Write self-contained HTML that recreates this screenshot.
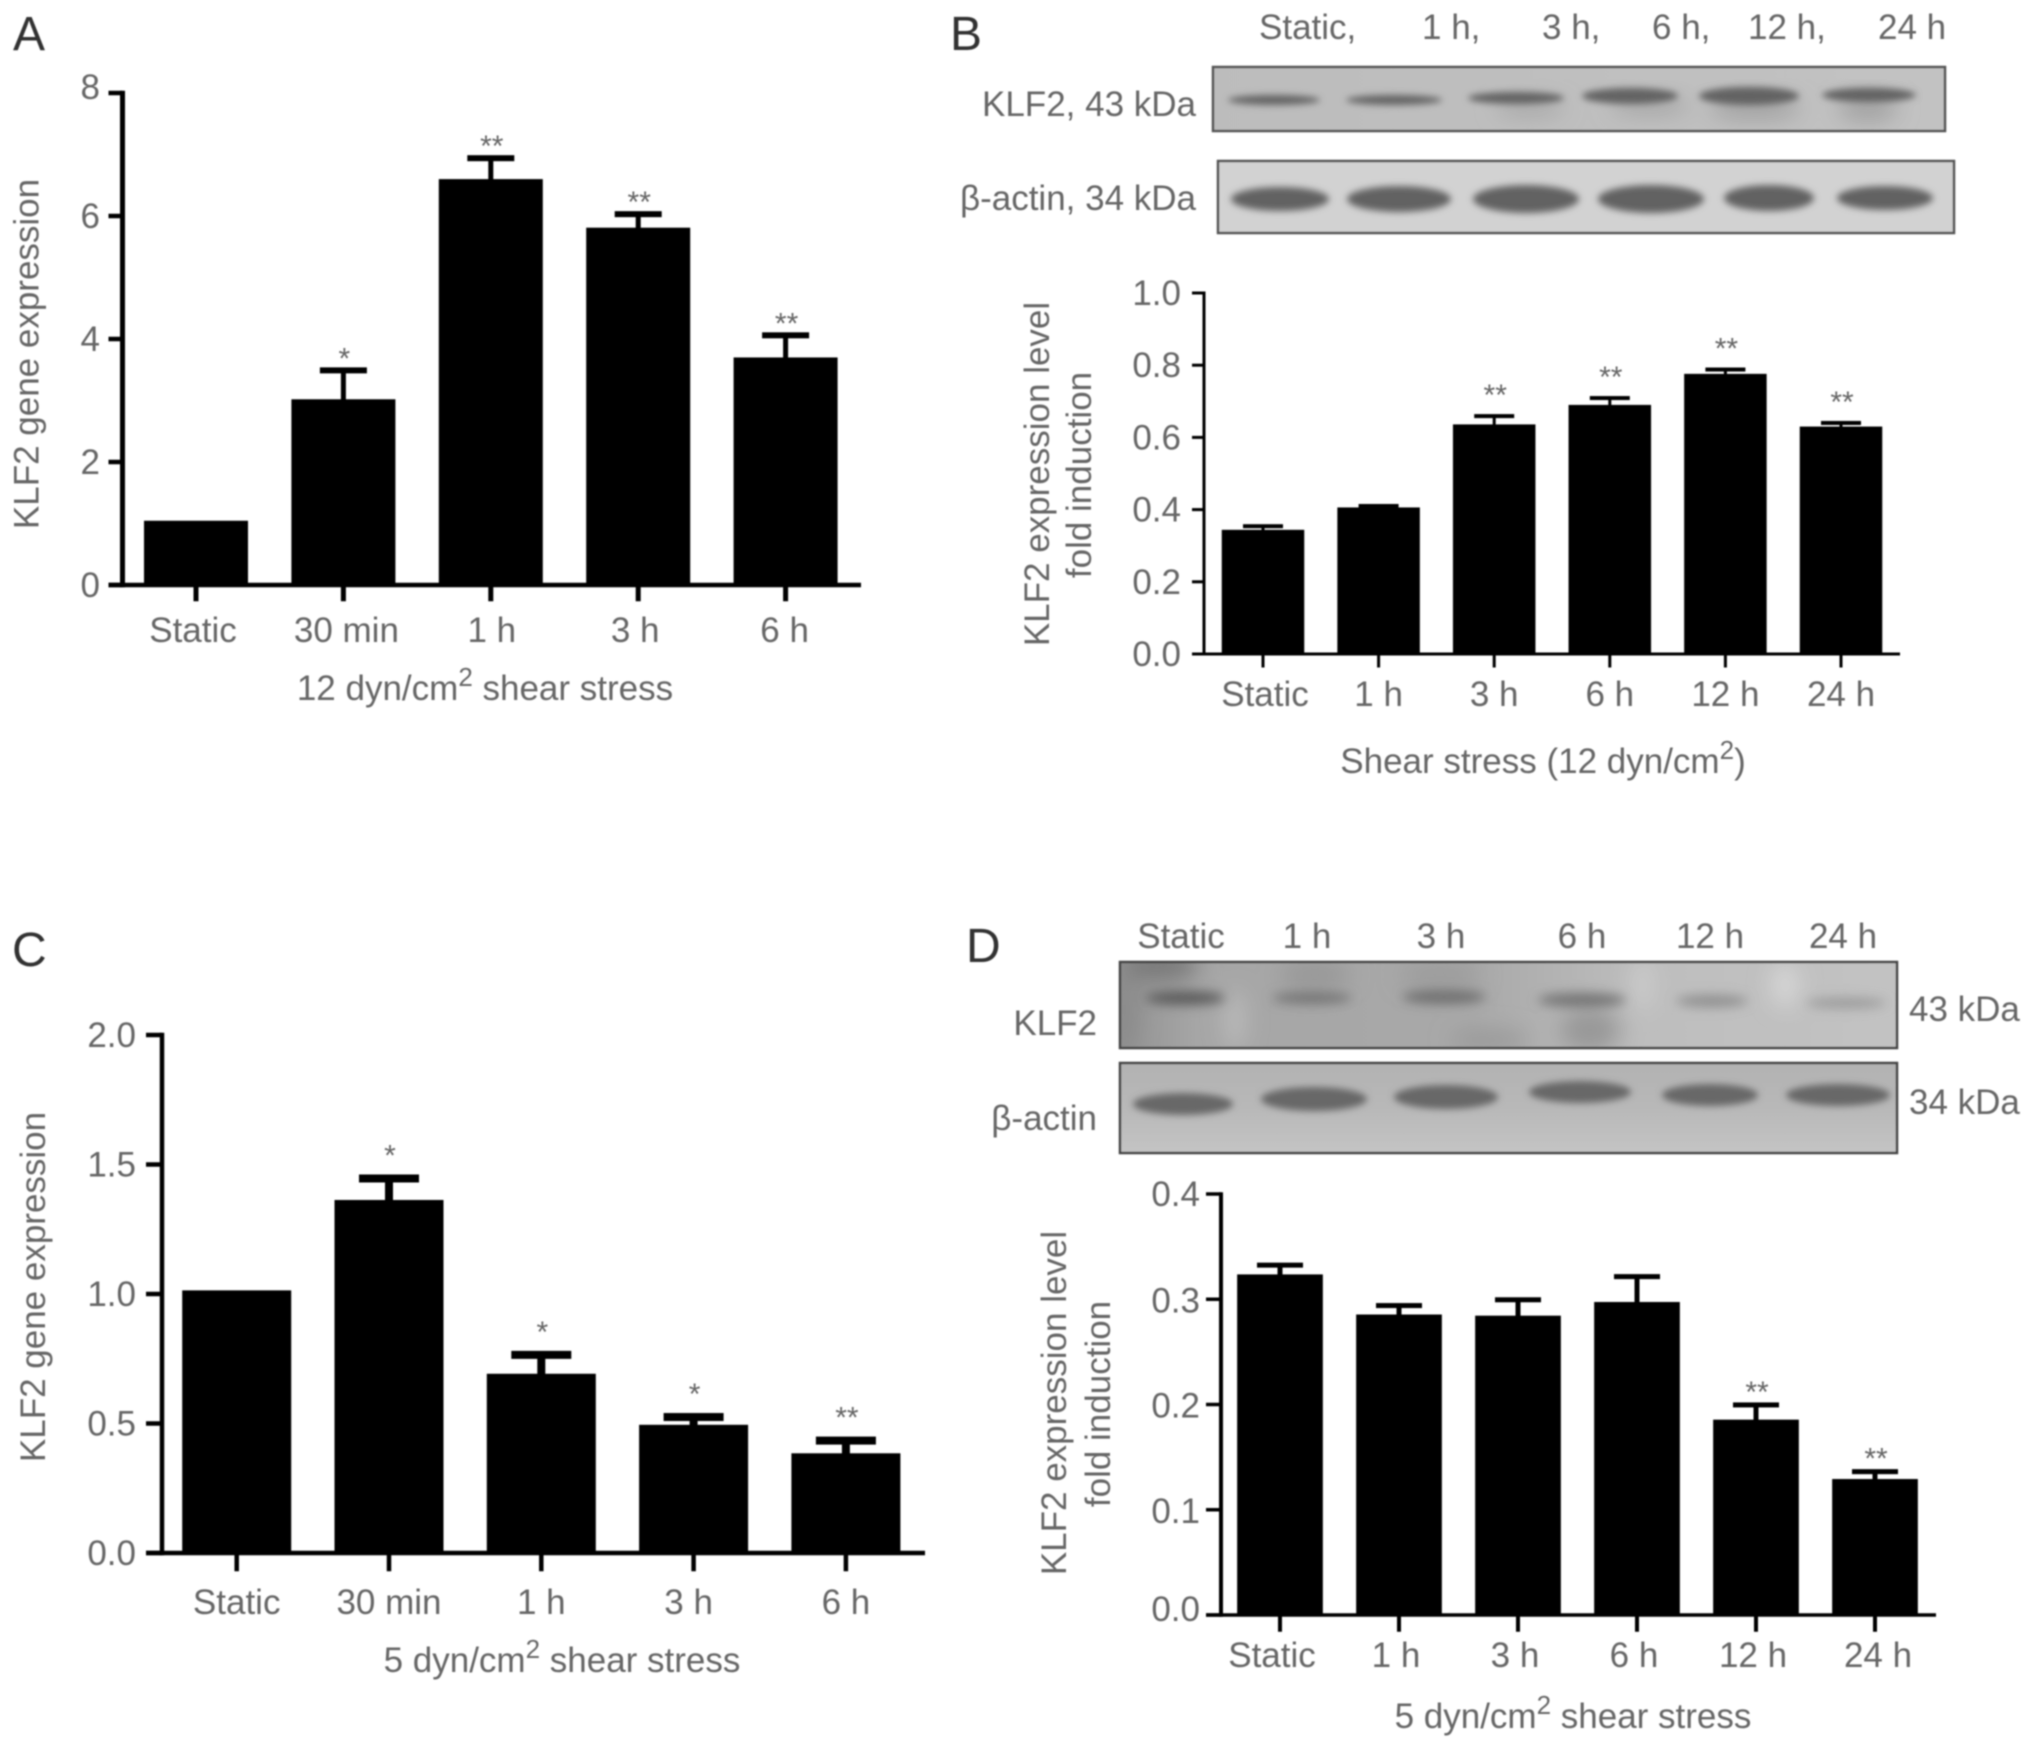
<!DOCTYPE html>
<html lang="en">
<head>
<meta charset="utf-8">
<title>KLF2 expression under shear stress</title>
<style>
html,body{margin:0;padding:0;background:#fff;width:2031px;height:1747px;overflow:hidden}
svg{display:block;position:absolute;left:0;top:0}
text{font-family:"Liberation Sans",sans-serif;fill:#666}
</style>
</head>
<body>
<svg id="figure" xmlns="http://www.w3.org/2000/svg" width="2031" height="1747" viewBox="0 0 2031 1747">
<defs>
  <filter id="soft" x="-5%" y="-5%" width="110%" height="110%"><feGaussianBlur stdDeviation="0.7"/></filter>
  <filter id="bandBlur" x="-30%" y="-100%" width="160%" height="300%"><feGaussianBlur stdDeviation="3.5"/></filter>
  <filter id="bandBlurWide" x="-30%" y="-150%" width="160%" height="400%"><feGaussianBlur stdDeviation="5.5"/></filter>
  <filter id="bgBlur" x="-50%" y="-50%" width="200%" height="200%"><feGaussianBlur stdDeviation="11"/></filter>
  <clipPath id="clipB1"><rect x="1213" y="67" width="732" height="64"/></clipPath>
  <clipPath id="clipB2"><rect x="1218" y="161" width="736" height="72"/></clipPath>
  <clipPath id="clipD1"><rect x="1120" y="962" width="777" height="86"/></clipPath>
  <clipPath id="clipD2"><rect x="1120" y="1063" width="777" height="90"/></clipPath>
  <linearGradient id="gradB1" x1="0" x2="1" y1="0" y2="0"><stop offset="0" stop-color="#bcbcbc"/><stop offset="1" stop-color="#c2c2c2"/></linearGradient>
  <linearGradient id="gradD1" x1="0" x2="1" y1="0" y2="0"><stop offset="0" stop-color="#929292"/><stop offset="0.1" stop-color="#a6a6a6"/><stop offset="0.45" stop-color="#a8a8a8"/><stop offset="0.68" stop-color="#bebebe"/><stop offset="1" stop-color="#c2c2c2"/></linearGradient>
  <linearGradient id="gradD2" x1="0" x2="0" y1="0" y2="1"><stop offset="0" stop-color="#b2b2b2"/><stop offset="0.5" stop-color="#b8b8b8"/><stop offset="1" stop-color="#c4c4c4"/></linearGradient>
</defs>
<g id="root" filter="url(#soft)">
  <text x="13" y="50" font-size="48" style="fill:#333">A</text>
  <text x="950" y="50" font-size="48" style="fill:#333">B</text>
  <text x="12" y="966" font-size="48" style="fill:#333">C</text>
  <text x="966" y="962" font-size="48" style="fill:#333">D</text>

  <g font-size="35">
    <text x="1259" y="39">Static,</text>
    <text x="1422" y="39">1 h,</text>
    <text x="1542" y="39">3 h,</text>
    <text x="1652" y="39">6 h,</text>
    <text x="1748" y="39">12 h,</text>
    <text x="1878" y="39">24 h</text>
    <text x="1196" y="116" text-anchor="end">KLF2, 43 kDa</text>
    <text x="1196" y="210" text-anchor="end">β-actin, 34 kDa</text>
  </g>

  <g>
    <rect x="1213" y="67" width="732" height="64" fill="url(#gradB1)"/>
    <g clip-path="url(#clipB1)">
      <g filter="url(#bgBlur)" fill="#a2a2a2">
        <ellipse cx="1530" cy="108" rx="35" ry="7"/>
        <ellipse cx="1650" cy="106" rx="40" ry="8"/>
        <ellipse cx="1755" cy="108" rx="46" ry="12"/>
        <ellipse cx="1868" cy="108" rx="30" ry="14"/>
      </g>
      <g filter="url(#bandBlur)" fill="#636363">
        <ellipse cx="1274" cy="100" rx="46" ry="5"/>
        <ellipse cx="1394" cy="100" rx="48" ry="5"/>
        <ellipse cx="1516" cy="98" rx="48" ry="6"/>
        <ellipse cx="1630" cy="96" rx="48" ry="8"/>
        <ellipse cx="1749" cy="96" rx="50" ry="9"/>
        <ellipse cx="1869" cy="95" rx="47" ry="7"/>
      </g>
    </g>
    <rect x="1213" y="67" width="732" height="64" fill="none" stroke="#555" stroke-width="2.5"/>
  </g>
  <g>
    <rect x="1218" y="161" width="736" height="72" fill="#d2d2d2"/>
    <g clip-path="url(#clipB2)">
      <g filter="url(#bandBlur)" fill="#626262">
        <ellipse cx="1280" cy="199" rx="49" ry="12"/>
        <ellipse cx="1399" cy="199" rx="52" ry="13"/>
        <ellipse cx="1526" cy="199" rx="53" ry="14"/>
        <ellipse cx="1651" cy="199" rx="53" ry="14"/>
        <ellipse cx="1769" cy="198" rx="45" ry="13"/>
        <ellipse cx="1885" cy="198" rx="48" ry="12"/>
      </g>
    </g>
    <rect x="1218" y="161" width="736" height="72" fill="none" stroke="#555" stroke-width="2.5"/>
  </g>

  <g font-size="35">
    <text x="1181" y="948" text-anchor="middle">Static</text>
    <text x="1307" y="948" text-anchor="middle">1 h</text>
    <text x="1441" y="948" text-anchor="middle">3 h</text>
    <text x="1582" y="948" text-anchor="middle">6 h</text>
    <text x="1710" y="948" text-anchor="middle">12 h</text>
    <text x="1843" y="948" text-anchor="middle">24 h</text>
    <text x="1097" y="1035" text-anchor="end">KLF2</text>
    <text x="1097" y="1130" text-anchor="end">β-actin</text>
    <text x="1909" y="1021">43 kDa</text>
    <text x="1909" y="1114">34 kDa</text>
  </g>

  <g>
    <rect x="1120" y="962" width="777" height="86" fill="url(#gradD1)"/>
    <g clip-path="url(#clipD1)">
      <g filter="url(#bgBlur)">
        <ellipse cx="1160" cy="966" rx="40" ry="14" fill="#777"/>
        <ellipse cx="1125" cy="1010" rx="12" ry="45" fill="#8a8a8a"/>
        <ellipse cx="1315" cy="975" rx="35" ry="14" fill="#979797"/>
        <ellipse cx="1440" cy="975" rx="40" ry="14" fill="#9c9c9c"/>
        <ellipse cx="1490" cy="1040" rx="40" ry="10" fill="#999"/>
        <ellipse cx="1590" cy="1030" rx="30" ry="22" fill="#989898"/>
        <ellipse cx="1785" cy="985" rx="14" ry="22" fill="#d6d6d6"/>
        <ellipse cx="1642" cy="985" rx="10" ry="25" fill="#cccccc"/>
        <ellipse cx="1235" cy="1020" rx="10" ry="30" fill="#bbb"/>
      </g>
      <g filter="url(#bandBlurWide)">
        <ellipse cx="1185" cy="998" rx="40" ry="7" fill="#5c5c5c"/>
        <ellipse cx="1312" cy="998" rx="40" ry="6" fill="#747474"/>
        <ellipse cx="1444" cy="997" rx="42" ry="7" fill="#707070"/>
        <ellipse cx="1582" cy="1000" rx="44" ry="7" fill="#757575"/>
        <ellipse cx="1712" cy="1001" rx="36" ry="6" fill="#8e8e8e"/>
        <ellipse cx="1846" cy="1003" rx="40" ry="5" fill="#989898"/>
      </g>
    </g>
    <rect x="1120" y="962" width="777" height="86" fill="none" stroke="#444" stroke-width="2.5"/>
  </g>
  <g>
    <rect x="1120" y="1063" width="777" height="90" fill="url(#gradD2)"/>
    <g clip-path="url(#clipD2)">
      <g filter="url(#bandBlur)" fill="#686868">
        <ellipse cx="1183" cy="1104" rx="50" ry="11"/>
        <ellipse cx="1314" cy="1099" rx="53" ry="12"/>
        <ellipse cx="1446" cy="1097" rx="52" ry="12"/>
        <ellipse cx="1580" cy="1092" rx="51" ry="11"/>
        <ellipse cx="1710" cy="1095" rx="48" ry="11"/>
        <ellipse cx="1838" cy="1095" rx="52" ry="11"/>
      </g>
    </g>
    <rect x="1120" y="1063" width="777" height="90" fill="none" stroke="#444" stroke-width="2.5"/>
  </g>
</g>
</svg>
<script>
const panelACategories = ['Static', '30 min', '1 h', '3 h', '6 h'];
const panelAValues = [1.045, 3.02, 6.6, 5.81, 3.7];
const panelAErrorTops = [null, 3.49, 6.94, 6.03, 4.06];
const panelAStars = ['', '*', '**', '**', '**'];
const panelAYTicks = [0, 2, 4, 6, 8];
const panelAYTickLabels = ['0', '2', '4', '6', '8'];

const panelBCategories = ['Static', '1 h', '3 h', '6 h', '12 h', '24 h'];
const panelBValues = [0.344, 0.406, 0.636, 0.69, 0.776, 0.63];
const panelBErrorTops = [0.354, 0.41, 0.659, 0.709, 0.788, 0.64];
const panelBStars = ['', '', '**', '**', '**', '**'];
const panelBYTicks = [0, 0.2, 0.4, 0.6, 0.8, 1.0];
const panelBYTickLabels = ['0.0', '0.2', '0.4', '0.6', '0.8', '1.0'];

const panelCCategories = ['Static', '30 min', '1 h', '3 h', '6 h'];
const panelCValues = [1.014, 1.363, 0.692, 0.495, 0.385];
const panelCErrorTops = [null, 1.446, 0.765, 0.525, 0.434];
const panelCStars = ['', '*', '*', '*', '**'];
const panelCYTicks = [0, 0.5, 1.0, 1.5, 2.0];
const panelCYTickLabels = ['0.0', '0.5', '1.0', '1.5', '2.0'];

const panelDCategories = ['Static', '1 h', '3 h', '6 h', '12 h', '24 h'];
const panelDValues = [0.3236, 0.2855, 0.2844, 0.2974, 0.1856, 0.1292];
const panelDErrorTops = [0.3324, 0.294, 0.2995, 0.3215, 0.1996, 0.1362];
const panelDStars = ['', '', '', '', '**', '**'];
const panelDYTicks = [0, 0.1, 0.2, 0.3, 0.4];
const panelDYTickLabels = ['0.0', '0.1', '0.2', '0.3', '0.4'];

const SVG_NS = 'http://www.w3.org/2000/svg';
const root = document.getElementById('root');

function shape(parent, tag, attrs) {
  const el = document.createElementNS(SVG_NS, tag);
  for (const k in attrs) el.setAttribute(k, attrs[k]);
  parent.appendChild(el);
  return el;
}

function addTitle(parent, x, y, before, after) {
  const t = shape(parent, 'text', {x: x, y: y, 'text-anchor': 'middle', 'font-size': 35});
  t.appendChild(document.createTextNode(before));
  const sup = shape(t, 'tspan', {dy: -14, 'font-size': 26});
  sup.textContent = '2';
  const rest = shape(t, 'tspan', {dy: 14});
  rest.textContent = after;
  return t;
}

function drawPanel(id, data, g) {
  const panel = shape(root, 'g', {});
  
  

  const yScale = v => g.base - (v / g.max) * (g.base - g.top);
  const xScale = i => g.first + g.step * i;

  data.categories.forEach((cat, i) => {
    const cx = xScale(i);
    const bar = shape(panel, 'rect', {x: cx - g.barW / 2, y: yScale(data.values[i]), width: g.barW, height: g.base - yScale(data.values[i]), fill: '#000'});
    
    

    if (data.errors[i] !== null) {
      const top = yScale(data.errors[i]);
      const stem = shape(panel, 'rect', {x: cx - g.stemW / 2, y: top, width: g.stemW, height: yScale(data.values[i]) - top + 1, fill: '#000'});
      
      
      const cap = shape(panel, 'rect', {x: cx - g.capW / 2, y: top - g.capH / 2, width: g.capW, height: g.capH, fill: '#000'});
      
      
    }

    if (data.stars[i]) {
      const refVal = data.errors[i] !== null ? data.errors[i] : data.values[i];
      const star = shape(panel, 'text', {x: cx + 1, y: yScale(refVal) - g.starGap + 17, 'text-anchor': 'middle', 'font-size': 30});
      star.textContent = data.stars[i];
      
      
    }

    const tick = shape(panel, 'rect', {x: cx - g.axisW / 2, y: g.base, width: g.axisW, height: g.tickLen + g.baseW / 2, fill: '#000'});
    
    

    const label = shape(panel, 'text', {x: cx + g.xNudge[i], y: g.xLabelY, 'text-anchor': 'middle', 'font-size': 35});
    label.textContent = cat;
    
    
  });

  const yAxis = shape(panel, 'rect', {x: g.axisX - g.axisW / 2, y: g.top - g.baseW / 2, width: g.axisW, height: g.base - g.top + g.baseW, fill: '#000'});
  
  
  const xAxis = shape(panel, 'rect', {x: g.axisX - g.tickLen, y: g.base - g.baseW / 2, width: g.axisEnd - g.axisX + g.tickLen, height: g.baseW, fill: '#000'});
  
  

  data.yTicks.forEach((v, i) => {
    const tick = shape(panel, 'rect', {x: g.axisX - g.tickLen, y: yScale(v) - g.baseW / 2, width: g.tickLen, height: g.baseW, fill: '#000'});
    
    
    const label = shape(panel, 'text', {x: g.yLabelX, y: yScale(v) + 12 + g.yNudge[i], 'text-anchor': 'end', 'font-size': 35});
    label.textContent = data.yLabels[i];
    
    
  });

  g.yTitle.forEach(line => {
    const t = shape(panel, 'text', {x: 0, y: 0, 'text-anchor': 'middle', 'font-size': line.size, transform: 'translate(' + line.x + ' ' + line.y + ') rotate(-90)'});
    t.textContent = line.text;
    
    
  });

  const xt = addTitle(panel, g.xTitle.x, g.xTitle.y, g.xTitle.before, g.xTitle.after);
  
  
}

drawPanel('a',
  {categories: panelACategories, values: panelAValues, errors: panelAErrorTops, stars: panelAStars, yTicks: panelAYTicks, yLabels: panelAYTickLabels},
  {axisX: 122.5, top: 93, base: 585, axisEnd: 861, first: 196, step: 147.4, barW: 104, max: 8, capW: 47, capH: 6, stemW: 5, axisW: 5, baseW: 4.5, tickLen: 14, starGap: 19, yLabelX: 100, xLabelY: 642,
   xNudge: [-3, 3, 1, -3, -1], yNudge: [0, 0, 0, 0, -6],
   yTitle: [{text: 'KLF2 gene expression', x: 38.5, y: 354, size: 35}],
   xTitle: {x: 485, y: 700, before: '12 dyn/cm', after: ' shear stress'}});

drawPanel('b',
  {categories: panelBCategories, values: panelBValues, errors: panelBErrorTops, stars: panelBStars, yTicks: panelBYTicks, yLabels: panelBYTickLabels},
  {axisX: 1204, top: 293, base: 654, axisEnd: 1900, first: 1263, step: 115.6, barW: 82.5, max: 1, capW: 40, capH: 4, stemW: 3, axisW: 3, baseW: 3, tickLen: 12, starGap: 28, yLabelX: 1181, xLabelY: 706,
   xNudge: [2, 0, 0, 0, 0, 0], yNudge: [0, 0, 0, 0, 0, 0],
   yTitle: [{text: 'KLF2 expression level', x: 1049, y: 474, size: 35}, {text: 'fold induction', x: 1091, y: 475, size: 35}],
   xTitle: {x: 1543, y: 773, before: 'Shear stress (12 dyn/cm', after: ')'}});

drawPanel('c',
  {categories: panelCCategories, values: panelCValues, errors: panelCErrorTops, stars: panelCStars, yTicks: panelCYTicks, yLabels: panelCYTickLabels},
  {axisX: 162, top: 1035, base: 1553, axisEnd: 925, first: 236.7, step: 152.3, barW: 109, max: 2, capW: 60, capH: 8, stemW: 8, axisW: 4.5, baseW: 4.5, tickLen: 16, starGap: 30, yLabelX: 136, xLabelY: 1614,
   xNudge: [0, 0, 0, -5, 0], yNudge: [0, 0, 0, 0, 0],
   yTitle: [{text: 'KLF2 gene expression', x: 45, y: 1287, size: 35}],
   xTitle: {x: 562, y: 1672, before: '5 dyn/cm', after: ' shear stress'}});

drawPanel('d',
  {categories: panelDCategories, values: panelDValues, errors: panelDErrorTops, stars: panelDStars, yTicks: panelDYTicks, yLabels: panelDYTickLabels},
  {axisX: 1221, top: 1194, base: 1615, axisEnd: 1936, first: 1280, step: 119, barW: 85.7, max: 0.4, capW: 46, capH: 5, stemW: 5, axisW: 4, baseW: 3.5, tickLen: 15, starGap: 20, yLabelX: 1200, xLabelY: 1667,
   xNudge: [-8, -3, -3, -3, -3, 3], yNudge: [-6, 1, 1, 1, 0],
   yTitle: [{text: 'KLF2 expression level', x: 1066, y: 1403, size: 35}, {text: 'fold induction', x: 1110, y: 1404, size: 35}],
   xTitle: {x: 1573, y: 1728, before: '5 dyn/cm', after: ' shear stress'}});
</script>
</body>
</html>
